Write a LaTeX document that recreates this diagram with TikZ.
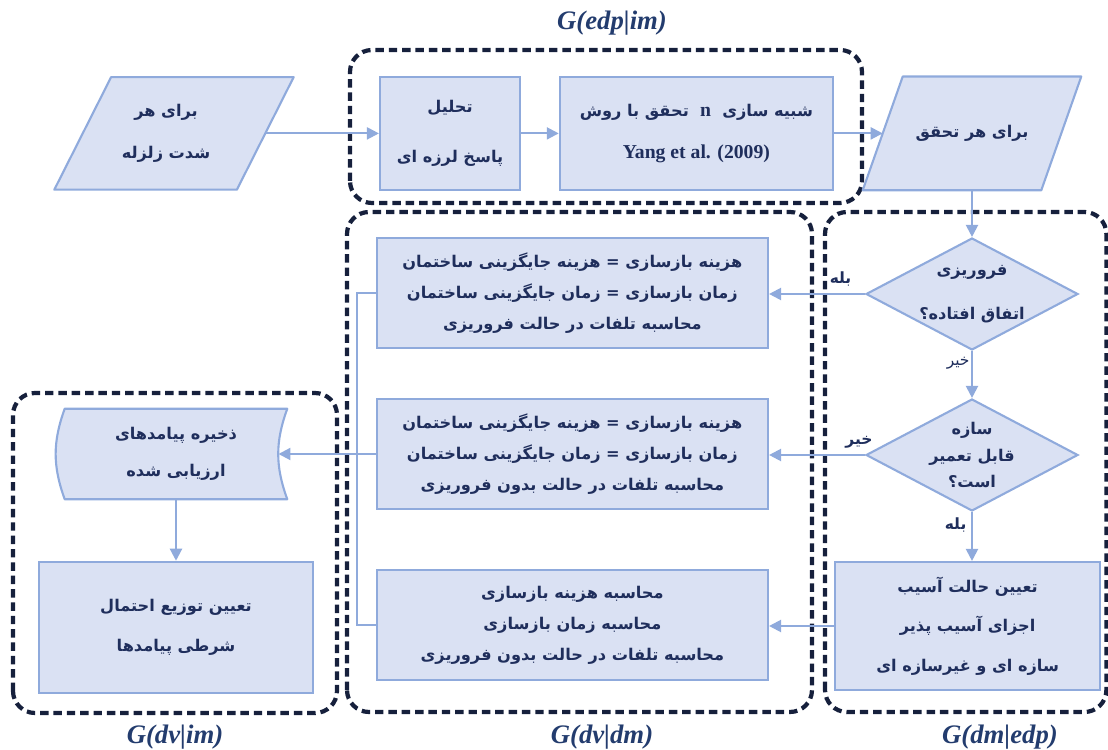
\documentclass[tikz,border=0pt]{standalone}
\usepackage{fontspec}
\usepackage{tikz}
\usetikzlibrary{shapes.geometric,arrows.meta,positioning}
\newfontfamily\farsi[Script=Arabic]{DejaVu Sans}
\newfontfamily\latin{Liberation Serif}
\TeXXeTstate=1
\newcommand{\fa}[1]{\beginR #1\endR}
\newcommand{\en}[1]{{\latin\fontsize{14}{16}\selectfont #1}}
\definecolor{boxfill}{RGB}{218,225,243}
\definecolor{boxline}{RGB}{143,170,220}
\definecolor{navy}{RGB}{31,46,92}
\definecolor{grpline}{RGB}{22,32,60}
\definecolor{titleblue}{RGB}{35,60,110}
\tikzstyle{block} = [draw=boxline, fill=boxfill, line width=1.5pt, text=navy, align=center, font=\farsi\bfseries\fontsize{11.5}{22}\selectfont, minimum height=2.75cm]
\tikzstyle{shapefill} = [draw=boxline, fill=boxfill, line width=1.5pt, line join=round]
\tikzstyle{decision} = [diamond, draw=boxline, fill=boxfill, line width=1.5pt, minimum width=5.3cm, minimum height=2.8cm, inner sep=0pt]
\tikzstyle{txt} = [text=navy, align=center, font=\farsi\bfseries\fontsize{11.5}{22}\selectfont]
\tikzstyle{grp} = [draw=grpline, line width=3pt, dash pattern=on 6pt off 3.5pt, rounded corners=0.55cm]
\tikzstyle{arr} = [draw=boxline, line width=1.5pt, -{Triangle[length=0.3cm,width=0.3cm]}]
\tikzstyle{wire} = [draw=boxline, line width=1.5pt]
\tikzstyle{lbl} = [text=navy, inner sep=1pt, font=\farsi\bfseries\fontsize{11}{13}\selectfont]
\tikzstyle{gtitle} = [text=titleblue, font=\latin\bfseries\itshape\fontsize{19}{21}\selectfont]

\begin{document}
\begin{tikzpicture}
	\useasboundingbox (0,0) rectangle (27.7,18.725);
	% dashed groups
	\draw[grp] (8.75,13.65) rectangle (21.55,17.475);
	\draw[grp] (8.675,0.925) rectangle (20.3,13.425);
	\draw[grp] (20.625,0.925) rectangle (27.66,13.425);
	\draw[grp] (0.325,0.9) rectangle (8.425,8.9);
	\node[gtitle] (tEdp) at (15.3,18.15) {G(edp|im)};
	\node[gtitle] (tDvIm) at (4.375,0.3) {G(dv|im)};
	\node[gtitle] (tDvDm) at (15.05,0.3) {G(dv|dm)};
	\node[gtitle] (tDmEdp) at (25.0,0.3) {G(dm|edp)};
	% top row
	\node[minimum width=4.55cm, minimum height=2.8cm] (in1) at (4.35,15.39) {};
	\filldraw[shapefill] ([xshift=0.71cm]in1.north west) -- ([xshift=0.71cm]in1.north east) -- ([xshift=-0.71cm]in1.south east) -- ([xshift=-0.71cm]in1.south west) -- cycle;
	\node[txt] (in1txt) at ([xshift=-0.2cm]in1) {\fa{برای هر}\\[8pt]\fa{شدت زلزله}};
	\node[block, minimum width=3.5cm, minimum height=2.83cm] (tahlil) at (11.25,15.39) {\fa{تحلیل}\\[13pt]\fa{پاسخ لرزه ای}};
	\node[block, minimum width=6.83cm, minimum height=2.83cm] (shabih) at (17.41,15.39) {\fa{شبیه سازی\ \ \en{n}\ \ تحقق با روش}\\[8pt]\en{Yang et al. (2009)}};
	\node[minimum width=4.45cm, minimum height=2.83cm] (in2) at (24.3,15.39) {};
	\filldraw[shapefill] ([xshift=0.5cm]in2.north west) -- ([xshift=0.5cm]in2.north east) -- ([xshift=-0.5cm]in2.south east) -- ([xshift=-0.5cm]in2.south west) -- cycle;
	\node[txt] (in2txt) at (in2) {\fa{برای هر تحقق}};
	% right column
	\node[decision] (dia1) at (24.3,11.375) {};
	\node[txt] (dia1txt) at (dia1) {\fa{فروریزی}\\[9pt]\fa{اتفاق افتاده؟}};
	\node[decision] (dia2) at (24.3,7.35) {};
	\node[txt] (dia2txt) at (dia2) {\fa{سازه}\\[-3pt]\fa{قابل تعمیر}\\[-3pt]\fa{است؟}};
	\node[block, minimum width=6.63cm, minimum height=3.2cm] (tayin) at (24.19,3.075) {\fa{تعیین حالت آسیب}\\[6pt]\fa{اجزای آسیب پذیر}\\[6pt]\fa{سازه ای و غیرسازه ای}};
	% middle column
	\node[block, minimum width=9.78cm] (boxA) at (14.31,11.4) {\fa{هزینه بازسازی = هزینه جایگزینی ساختمان}\\\fa{زمان بازسازی = زمان جایگزینی ساختمان}\\\fa{محاسبه تلفات در حالت فروریزی}};
	\node[block, minimum width=9.78cm] (boxB) at (14.31,7.375) {\fa{هزینه بازسازی = هزینه جایگزینی ساختمان}\\\fa{زمان بازسازی = زمان جایگزینی ساختمان}\\\fa{محاسبه تلفات در حالت بدون فروریزی}};
	\node[block, minimum width=9.78cm] (boxC) at (14.31,3.1) {\fa{محاسبه هزینه بازسازی}\\\fa{محاسبه زمان بازسازی}\\\fa{محاسبه تلفات در حالت بدون فروریزی}};
	% left column
	\node[minimum width=5.55cm, minimum height=2.25cm] (store) at (4.4,7.375) {};
	\filldraw[shapefill] (store.north west) to[bend right=20] (store.south west) -- (store.south east) to[bend left=20] (store.north east) -- cycle;
	\node[txt] (storetxt) at (store) {\fa{ذخیره پیامدهای}\\[4pt]\fa{ارزیابی شده}};
	\node[block, minimum width=6.85cm, minimum height=3.28cm] (cond) at (4.4,3.04) {\fa{تعیین توزیع احتمال}\\[6pt]\fa{شرطی پیامدها}};
	% connectors
	\draw[arr] (in1) -- (tahlil);
	\draw[arr] (tahlil) -- (shabih);
	\draw[arr] (shabih) -- (in2);
	\draw[arr] (in2) -- (dia1);
	\draw[arr] (dia1) -- (dia2);
	\draw[arr] (dia2.south) -- (dia2.south |- tayin.north);
	\draw[arr] (dia1.west) -- (dia1.west -| boxA.east);
	\draw[arr] (dia2.west) -- (dia2.west -| boxB.east);
	\draw[arr] (tayin.west) -- (tayin.west -| boxC.east);
	\draw[wire] (boxA.west) -- ++(-0.475,0) |- (boxC.west);
	\draw[arr] (boxB.west) -- ([xshift=-0.22cm]boxB.west -| store.east);
	\draw[arr] (store) -- (cond);
	\node[lbl, above left=0.15cm and 0.3cm of dia1.west] (yes1) {\fa{بله}};
	\node[lbl, font=\farsi\fontsize{11}{13}\selectfont, below left=0.1cm and 0.02cm of dia1.south] (no1) {\fa{خیر}};
	\node[lbl, above=0.12cm of dia2.west, xshift=-0.15cm] (no2) {\fa{خیر}};
	\node[lbl, below left=0.1cm and 0.1cm of dia2.south] (yes2) {\fa{بله}};
\end{tikzpicture}
\end{document}
